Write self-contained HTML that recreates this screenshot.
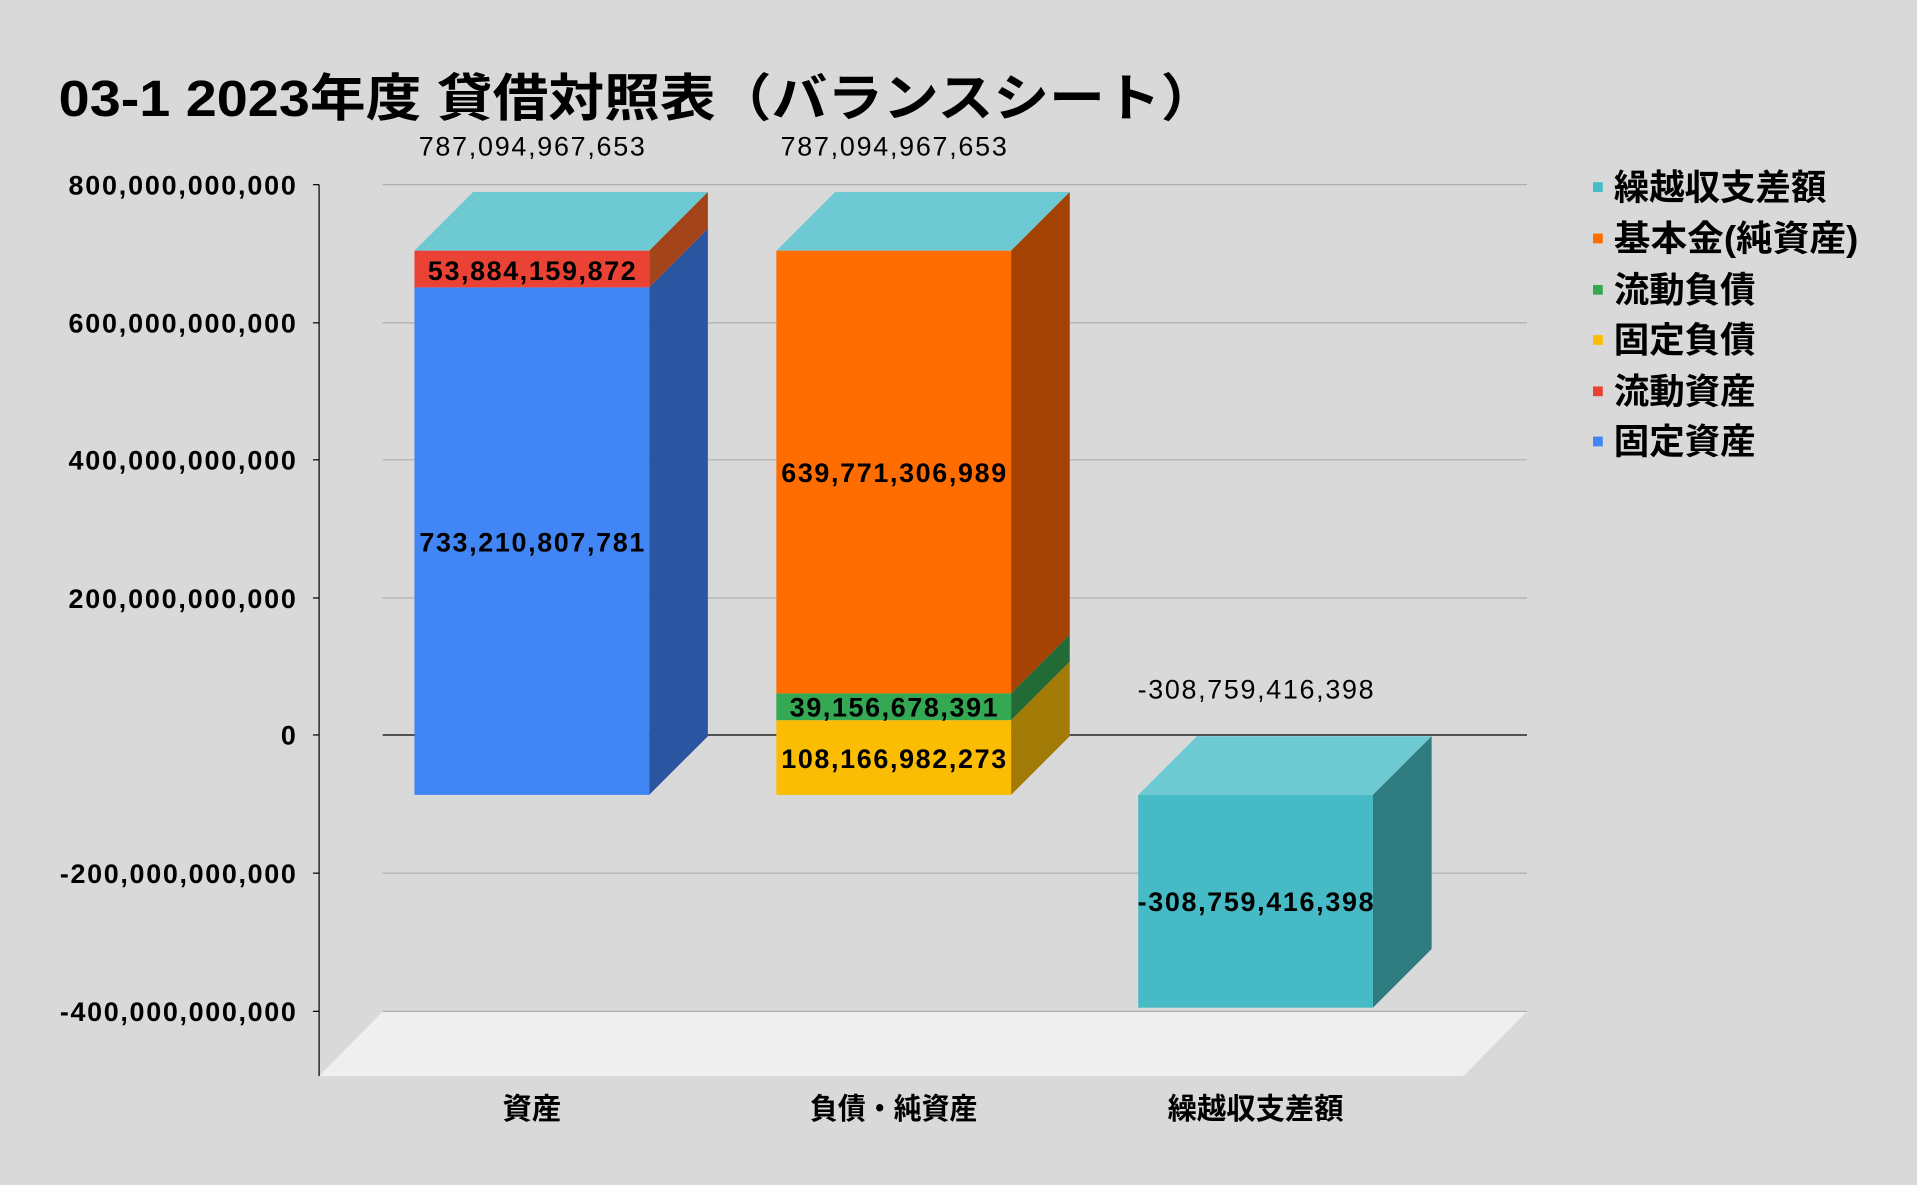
<!DOCTYPE html>
<html><head><meta charset="utf-8"><style>
html,body{margin:0;padding:0;background:#d9d9d9;}
svg{display:block;}
text{font-family:"Liberation Sans","Noto Sans CJK JP",sans-serif;fill:#000;}
.b{font-weight:bold;}
</style></head><body>
<svg width="1917" height="1185" viewBox="0 0 1568 969" preserveAspectRatio="none" xmlns="http://www.w3.org/2000/svg">
<rect width="1568" height="969" fill="#d9d9d9"/>
<text x="48" y="95" class="b" font-size="42" textLength="947" lengthAdjust="spacingAndGlyphs">03-1 2023年度 貸借対照表（バランスシート）</text>
<polygon points="313,827 1249,827 1197,880 261,880" fill="#efefef"/>
<g stroke="#b0b0b0" stroke-width="1">
<line x1="313" y1="151" x2="1249" y2="151"/>
<line x1="313" y1="264" x2="1249" y2="264"/>
<line x1="313" y1="376" x2="1249" y2="376"/>
<line x1="313" y1="489" x2="1249" y2="489"/>
<line x1="313" y1="714" x2="1249" y2="714"/>
<line x1="313" y1="827" x2="1249" y2="827"/>
</g>
<line x1="313" y1="601" x2="1249" y2="601" stroke="#000" stroke-width="1"/>
<g stroke="#000" stroke-width="1">
<line x1="261" y1="151" x2="261" y2="880"/>
<line x1="256" y1="151" x2="261" y2="151"/>
<line x1="256" y1="264" x2="261" y2="264"/>
<line x1="256" y1="376" x2="261" y2="376"/>
<line x1="256" y1="489" x2="261" y2="489"/>
<line x1="256" y1="601" x2="261" y2="601"/>
<line x1="256" y1="714" x2="261" y2="714"/>
<line x1="256" y1="827" x2="261" y2="827"/>
</g>
<g class="b" font-size="22" text-anchor="end" lengthAdjust="spacingAndGlyphs">
<text x="242" y="159" textLength="186">800,000,000,000</text>
<text x="242" y="272" textLength="186">600,000,000,000</text>
<text x="242" y="384" textLength="186">400,000,000,000</text>
<text x="242" y="497" textLength="186">200,000,000,000</text>
<text x="242" y="609">0</text>
<text x="242" y="722" textLength="193">-200,000,000,000</text>
<text x="242" y="835" textLength="193">-400,000,000,000</text>
</g>
<polygon points="339,205 387,157 579,157 531,205" fill="#6dcad2"/>
<polygon points="531,235 579,187 579,602 531,650" fill="#2a55a0"/>
<polygon points="531,205 579,157 579,187 531,235" fill="#a3441a"/>
<rect x="339" y="235" width="192" height="415" fill="#4285f4"/>
<rect x="339" y="205" width="192" height="30" fill="#ea4335"/>
<polygon points="635,205 683,157 875,157 827,205" fill="#6dcad2"/>
<polygon points="827,205 875,157 875,519 827,567" fill="#a44203"/>
<polygon points="827,567 875,519 875,541 827,589" fill="#226b37"/>
<polygon points="827,589 875,541 875,602 827,650" fill="#a37b07"/>
<rect x="635" y="205" width="192" height="362" fill="#ff6d01"/>
<rect x="635" y="567" width="192" height="22" fill="#34a853"/>
<rect x="635" y="589" width="192" height="61" fill="#fbbc04"/>
<polygon points="931,650 979,602 1171,602 1123,650" fill="#6dcad2"/>
<polygon points="1123,650 1171,602 1171,776 1123,824" fill="#2e7b80"/>
<rect x="931" y="650" width="192" height="174" fill="#46bbc6"/>
<g font-size="22" text-anchor="middle" lengthAdjust="spacingAndGlyphs">
<text x="435" y="127" textLength="185">787,094,967,653</text>
<text x="731" y="127" textLength="185">787,094,967,653</text>
<text x="1027" y="571" textLength="193">-308,759,416,398</text>
</g>
<g class="b" font-size="22" text-anchor="middle" lengthAdjust="spacingAndGlyphs">
<text x="435" y="229" textLength="170">53,884,159,872</text>
<text x="435" y="451" textLength="184">733,210,807,781</text>
<text x="731" y="394" textLength="184">639,771,306,989</text>
<text x="731" y="586" textLength="170">39,156,678,391</text>
<text x="731" y="628" textLength="184">108,166,982,273</text>
<text x="1027" y="745" textLength="193">-308,759,416,398</text>
</g>
<g class="b" font-size="24" text-anchor="middle">
<text x="435" y="915">資産</text>
<text x="731" y="915" textLength="137" lengthAdjust="spacingAndGlyphs">負債・純資産</text>
<text x="1027" y="915">繰越収支差額</text>
</g>
<g class="b" font-size="29">
<rect x="1303" y="149" width="8" height="8" fill="#46bdc6"/><text x="1320" y="163">繰越収支差額</text>
<rect x="1303" y="191" width="8" height="8" fill="#ff6d01"/><text x="1320" y="205" textLength="200" lengthAdjust="spacingAndGlyphs">基本金(純資産)</text>
<rect x="1303" y="233" width="8" height="8" fill="#34a853"/><text x="1320" y="247">流動負債</text>
<rect x="1303" y="274" width="8" height="8" fill="#fbbc04"/><text x="1320" y="288">固定負債</text>
<rect x="1303" y="316" width="8" height="8" fill="#ea4335"/><text x="1320" y="330">流動資産</text>
<rect x="1303" y="357" width="8" height="8" fill="#4285f4"/><text x="1320" y="371">固定資産</text>
</g>
</svg>
</body></html>
